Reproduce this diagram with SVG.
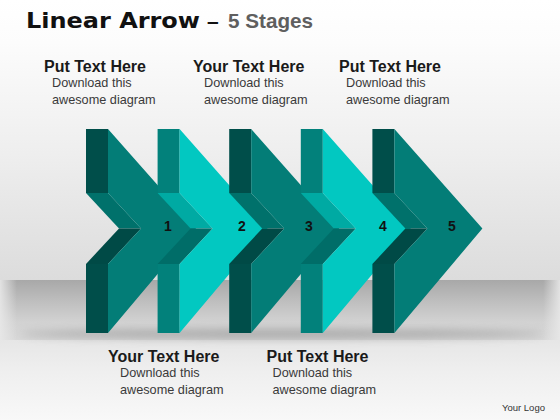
<svg xmlns="http://www.w3.org/2000/svg" width="560" height="420" viewBox="0 0 560 420">
  <defs>
    <linearGradient id="bgTop" x1="0" y1="0" x2="0" y2="1">
      <stop offset="0" stop-color="#ffffff"/>
      <stop offset="0.15" stop-color="#fcfcfc"/>
      <stop offset="0.55" stop-color="#eeeeee"/>
      <stop offset="1" stop-color="#dcdcdc"/>
    </linearGradient>
    <linearGradient id="floor" x1="0" y1="0" x2="0" y2="1">
      <stop offset="0" stop-color="#a8a8a8"/>
      <stop offset="0.35" stop-color="#bebebe"/>
      <stop offset="0.7" stop-color="#d2d2d2"/>
      <stop offset="1" stop-color="#d8d8d8"/>
    </linearGradient>
    <linearGradient id="bgBottom" x1="0" y1="0" x2="0" y2="1">
      <stop offset="0" stop-color="#e6e6e6"/>
      <stop offset="0.4" stop-color="#efefef"/>
      <stop offset="1" stop-color="#f8f8f8"/>
    </linearGradient>
    <linearGradient id="edgeFade" x1="0" y1="0" x2="1" y2="0">
      <stop offset="0" stop-color="#e8e8e8" stop-opacity="0.9"/>
      <stop offset="0.03" stop-color="#e8e8e8" stop-opacity="0"/>
      <stop offset="0.97" stop-color="#e8e8e8" stop-opacity="0"/>
      <stop offset="1" stop-color="#e8e8e8" stop-opacity="0.9"/>
    </linearGradient>
    <filter id="blur" x="-10%" y="-200%" width="120%" height="500%">
      <feGaussianBlur stdDeviation="4"/>
    </filter>
  </defs>
  <style>
    .dark .front { fill: #037d77; }
    .dark .bar { fill: #004e4a; }
    .dark .up { fill: #00716b; }
    .dark .down { fill: #004a46; }
    .cyan .front { fill: #02c8c1; }
    .cyan .bar { fill: #02817b; }
    .cyan .up { fill: #00aaa3; }
    .cyan .down { fill: #006d68; }
    .num { font-family: "Liberation Sans", Arial, sans-serif; font-weight: bold; font-size: 14px; fill: #111111; text-anchor: middle; }
    .head { font-family: "Liberation Sans", Arial, sans-serif; font-weight: bold; font-size: 16px; fill: #1a1a1a; }
    .body { font-family: "Liberation Sans", Arial, sans-serif; font-size: 12.7px; fill: #3a3a3a; }
  </style>

  <!-- background -->
  <rect x="0" y="0" width="560" height="280" fill="url(#bgTop)"/>
  <rect x="0" y="280" width="560" height="60" fill="url(#floor)"/>
  <rect x="0" y="340" width="560" height="80" fill="url(#bgBottom)"/>
  <rect x="0" y="280" width="560" height="60" fill="url(#edgeFade)"/>
  <ellipse cx="282" cy="334" rx="262" ry="5" fill="#8a8a8a" opacity="0.55" filter="url(#blur)"/>

  <!-- title -->
  <g id="title">
    <text x="26" y="28" font-family="'DejaVu Sans', 'Liberation Sans', sans-serif" font-weight="bold" font-size="22" fill="#111111" textLength="174" lengthAdjust="spacingAndGlyphs">Linear Arrow</text>
    <text x="207" y="28" font-family="'Liberation Sans', Arial, sans-serif" font-weight="bold" font-size="21" fill="#111111">–</text>
    <text x="228" y="28" font-family="'Liberation Sans', Arial, sans-serif" font-weight="bold" font-size="21" fill="#5f5f5f" textLength="85" lengthAdjust="spacingAndGlyphs">5 Stages</text>
  </g>

  <!-- arrows -->
  <g id="arrow1" class="dark" transform="translate(108,0)">
    <polygon class="bar" points="-22,129 0,129 0,193 -22,193"/>
    <polygon class="up" points="-22,193 0,193 33,228.5 11,228.5"/>
    <polygon class="down" points="11,228.5 33,228.5 0,264 -22,264"/>
    <polygon class="bar" points="-22,264 0,264 0,333 -22,333"/>
    <polygon class="front" points="0,129 88,228.5 0,333 0,264 33,228.5 0,193"/>
  </g>
  <g id="arrow2" class="cyan" transform="translate(179.6,0)">
    <polygon class="bar" points="-22,129 0,129 0,193 -22,193"/>
    <polygon class="up" points="-22,193 0,193 33,228.5 11,228.5"/>
    <polygon class="down" points="11,228.5 33,228.5 0,264 -22,264"/>
    <polygon class="bar" points="-22,264 0,264 0,333 -22,333"/>
    <polygon class="front" points="0,129 88,228.5 0,333 0,264 33,228.5 0,193"/>
  </g>
  <g id="arrow3" class="dark" transform="translate(251.2,0)">
    <polygon class="bar" points="-22,129 0,129 0,193 -22,193"/>
    <polygon class="up" points="-22,193 0,193 33,228.5 11,228.5"/>
    <polygon class="down" points="11,228.5 33,228.5 0,264 -22,264"/>
    <polygon class="bar" points="-22,264 0,264 0,333 -22,333"/>
    <polygon class="front" points="0,129 88,228.5 0,333 0,264 33,228.5 0,193"/>
  </g>
  <g id="arrow4" class="cyan" transform="translate(322.8,0)">
    <polygon class="bar" points="-22,129 0,129 0,193 -22,193"/>
    <polygon class="up" points="-22,193 0,193 33,228.5 11,228.5"/>
    <polygon class="down" points="11,228.5 33,228.5 0,264 -22,264"/>
    <polygon class="bar" points="-22,264 0,264 0,333 -22,333"/>
    <polygon class="front" points="0,129 88,228.5 0,333 0,264 33,228.5 0,193"/>
  </g>
  <g id="arrow5" class="dark" transform="translate(394.4,0)">
    <polygon class="bar" points="-22,129 0,129 0,193 -22,193"/>
    <polygon class="up" points="-22,193 0,193 33,228.5 11,228.5"/>
    <polygon class="down" points="11,228.5 33,228.5 0,264 -22,264"/>
    <polygon class="bar" points="-22,264 0,264 0,333 -22,333"/>
    <polygon class="front" points="0,129 88,228.5 0,333 0,264 33,228.5 0,193"/>
  </g>

  <!-- stage numbers -->
  <g id="numbers">
    <text class="num" x="168" y="230.5">1</text>
    <text class="num" x="242" y="230.5">2</text>
    <text class="num" x="309" y="230.5">3</text>
    <text class="num" x="383" y="230.5">4</text>
    <text class="num" x="452" y="230.5">5</text>
  </g>

  <!-- text blocks -->
  <g id="text1">
    <text class="head" x="44" y="72">Put Text Here</text>
    <text class="body" x="52" y="87">Download this</text>
    <text class="body" x="52" y="104">awesome diagram</text>
  </g>
  <g id="text2">
    <text class="head" x="193" y="72">Your Text Here</text>
    <text class="body" x="204" y="87">Download this</text>
    <text class="body" x="204" y="104">awesome diagram</text>
  </g>
  <g id="text3">
    <text class="head" x="339" y="72">Put Text Here</text>
    <text class="body" x="346" y="87">Download this</text>
    <text class="body" x="346" y="104">awesome diagram</text>
  </g>
  <g id="text4">
    <text class="head" x="108" y="362">Your Text Here</text>
    <text class="body" x="120" y="377">Download this</text>
    <text class="body" x="120" y="394">awesome diagram</text>
  </g>
  <g id="text5">
    <text class="head" x="266.5" y="362">Put Text Here</text>
    <text class="body" x="272.5" y="377">Download this</text>
    <text class="body" x="272.5" y="394">awesome diagram</text>
  </g>
  <g id="logo">
    <text x="502" y="411" font-family="'Liberation Sans', Arial, sans-serif" font-size="9.5" fill="#333333">Your Logo</text>
  </g>
</svg>
